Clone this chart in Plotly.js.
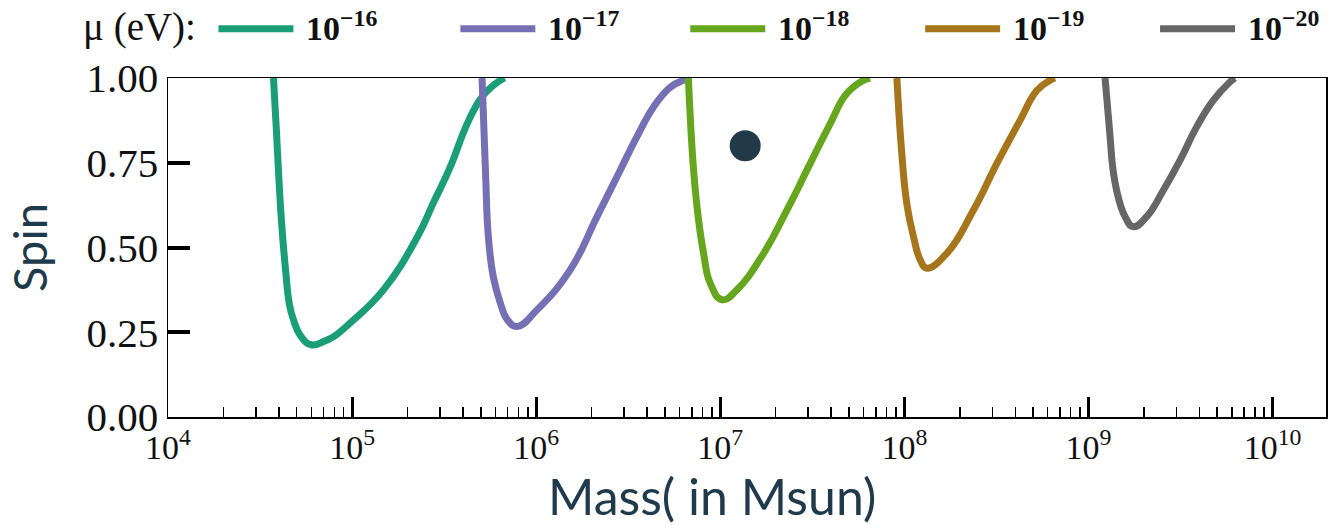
<!DOCTYPE html>
<html><head><meta charset="utf-8">
<script src="https://cdn.plot.ly/plotly-3.0.1.min.js"></script>
<style>html,body{margin:0;padding:0;background:#fff}</style>
</head><body><div id="chart" style="width:1338px;height:525px"></div>
<script>
// Axion mass labels
const muLabels = ["10<sup>−16</sup>", "10<sup>−17</sup>", "10<sup>−18</sup>", "10<sup>−19</sup>", "10<sup>−20</sup>"];
const muColors = ["#1b9e77", "#7570b3", "#66a61e", "#a6761d", "#666666"];
const legendTitle = "μ (eV):";

// Black hole mass (Msun) and spin, per mu
const massMu16 = [3.74e4, 3.88e4, 3.98e4, 4.13e4, 4.35e4, 4.57e4, 4.80e4, 5.24e4, 6.01e4, 7.16e4, 7.94e4, 9.79e4, 1.48e5, 2.26e5, 2.76e5, 3.41e5, 4.25e5, 5.16e5, 6.38e5, 6.76e5];
const spinMu16 = [1.0, 0.846, 0.728, 0.581, 0.434, 0.331, 0.287, 0.240, 0.213, 0.225, 0.237, 0.278, 0.375, 0.531, 0.631, 0.737, 0.869, 0.949, 0.993, 1.0];

const massMu17 = [5.08e5, 5.30e5, 5.50e5, 5.85e5, 6.38e5, 6.97e5, 7.87e5, 1.01e6, 1.53e6, 2.14e6, 2.86e6, 3.52e6, 4.33e6, 5.35e6, 6.30e6, 6.87e6];
const spinMu17 = [1.0, 0.728, 0.531, 0.413, 0.337, 0.287, 0.267, 0.316, 0.434, 0.591, 0.728, 0.826, 0.914, 0.973, 0.993, 1.0];

const massMu18 = [6.71e6, 7.16e6, 7.62e6, 8.11e6, 8.81e6, 1.02e7, 1.23e7, 1.72e7, 2.30e7, 3.08e7, 3.95e7, 4.86e7, 5.98e7, 6.52e7];
const spinMu18 = [1.0, 0.728, 0.581, 0.483, 0.395, 0.346, 0.375, 0.483, 0.610, 0.748, 0.865, 0.954, 0.993, 1.0];

const massMu19 = [9.10e7, 9.68e7, 1.03e8, 1.12e8, 1.22e8, 1.32e8, 1.70e8, 2.37e8, 3.18e8, 4.25e8, 5.24e8, 6.18e8, 6.58e8];
const spinMu19 = [1.0, 0.777, 0.630, 0.532, 0.463, 0.439, 0.483, 0.610, 0.748, 0.875, 0.963, 0.993, 1.0];

const massMu20 = [1.23e9, 1.31e9, 1.36e9, 1.45e9, 1.58e9, 1.75e9, 2.07e9, 2.55e9, 3.14e9, 3.86e9, 4.76e9, 5.86e9, 6.24e9];
const spinMu20 = [1.0, 0.826, 0.728, 0.649, 0.591, 0.561, 0.591, 0.669, 0.757, 0.855, 0.934, 0.988, 1.0];

// Observed black hole
const pointMass = [1.365e7];
const pointSpin = [0.80];

// Tick labels
const xTickVals = [1e4, 1e5, 1e6, 1e7, 1e8, 1e9, 1e10];
const xTickText = ["10<sup>4</sup>", "10<sup>5</sup>", "10<sup>6</sup>", "10<sup>7</sup>", "10<sup>8</sup>", "10<sup>9</sup>", "10<sup>10</sup>"];
const yTickVals = [0, 0.25, 0.5, 0.75, 1.0];
const yTickText = ["0.00", "0.25", "0.50", "0.75", "1.00"];

const masses = [massMu16, massMu17, massMu18, massMu19, massMu20];
const spins = [spinMu16, spinMu17, spinMu18, spinMu19, spinMu20];

const minorVals = [];
for (let d = 4; d <= 10; d++) for (let k = 2; k <= 9; k++) minorVals.push(k * Math.pow(10, d));

const traces = masses.map((m, i) => ({
  x: m, y: spins[i], type: 'scatter', mode: 'lines',
  name: muLabels[i], showlegend: false,
  line: {color: muColors[i], width: 7, shape: 'spline', smoothing: 1.3}
}));
traces.push({
  x: pointMass, y: pointSpin, type: 'scatter', mode: 'markers',
  marker: {size: 31, color: '#223a47'}, showlegend: false
});

const serif = '"Liberation Serif", "DejaVu Serif", serif';
const titleColor = '#1f3a4b';

// Manual legend placement (pixels in the 1338x525 figure)
const L = 167.5, W = 1158.5, B = 417.5, H = 340;
const px = v => (v - L) / W;
const py = v => (B - v) / H;
const legY = 28;
const sampleX0 = [218, 460, 690, 925, 1160];
const shapes = [], annotations = [];
sampleX0.forEach((x0, i) => {
  shapes.push({type: 'line', xref: 'paper', yref: 'paper', x0: px(x0), x1: px(x0 + 75), y0: py(legY), y1: py(legY),
    line: {color: muColors[i], width: 7}});
  annotations.push({xref: 'paper', yref: 'paper', x: px(x0 + 86), y: py(legY - 3), xanchor: 'left', yanchor: 'middle',
    text: '<b>' + muLabels[i] + '</b>', showarrow: false, font: {family: serif, size: 34, color: '#111'}});
});
annotations.push({xref: 'paper', yref: 'paper', x: px(80), y: py(legY - 2), xanchor: 'left', yanchor: 'middle',
  text: legendTitle, showarrow: false, font: {family: serif, size: 39, color: '#111'}});
annotations.push({xref: 'paper', yref: 'paper', x: px(712), y: py(497), xanchor: 'center', yanchor: 'middle',
  text: 'Mass( in Msun)', showarrow: false, font: {family: 'Lato, "Open Sans", sans-serif', size: 50, color: titleColor}});

const layout = {
  width: 1338, height: 525,
  margin: {l: 167.5, r: 12, t: 77.5, b: 107.5, autoexpand: false},
  paper_bgcolor: '#fff', plot_bgcolor: '#fff',
  showlegend: false,
  shapes: shapes, annotations: annotations,
  xaxis: {
    type: 'log', range: [4, 10.29],
    tickmode: 'array', tickvals: xTickVals, ticktext: xTickText,
    ticks: 'inside', ticklen: 20, tickwidth: 3, tickcolor: '#000',
    minor: {tickmode: 'array', tickvals: minorVals, ticks: 'inside', ticklen: 10, tickwidth: 1.5, tickcolor: '#000', showgrid: false},
    showline: true, linecolor: '#000', linewidth: 1.5, mirror: true,
    showgrid: false, zeroline: false,
    tickfont: {family: serif, size: 34, color: '#111'}
  },
  yaxis: {
    range: [0, 1], tickmode: 'array', tickvals: yTickVals, ticktext: yTickText,
    ticks: 'inside', ticklen: 22, tickwidth: 4, tickcolor: '#000',
    showline: true, linecolor: '#000', linewidth: 1.5, mirror: true,
    showgrid: false, zeroline: false,
    tickfont: {family: serif, size: 41, color: '#111'},
    title: {text: 'Spin', font: {family: 'Lato, "Open Sans", sans-serif', size: 47, color: titleColor}, standoff: 24}
  }
};

Plotly.newPlot('chart', traces, layout, {displayModeBar: false, staticPlot: true});
</script></body></html>
